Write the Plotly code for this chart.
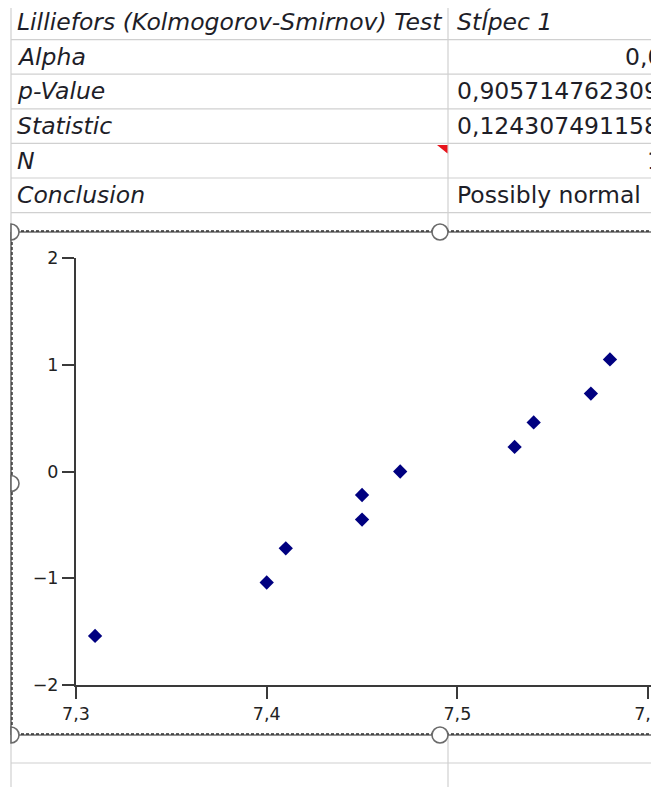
import plotly.graph_objects as go

# ---- data ----
row_labels = ["Lilliefors (Kolmogorov-Smirnov) Test", "Alpha", "p-Value", "Statistic", "N", "Conclusion"]
row_values = ["Stĺpec 1", "0,05", "0,9057147623099", "0,1243074911580", "11", "Possibly normal"]
value_align = ["left", "right", "left", "left", "right", "left"]
label_italic = [True, True, True, True, True, True]
value_italic = [True, False, False, False, False, False]

x_values = [7.31, 7.40, 7.41, 7.45, 7.45, 7.47, 7.53, 7.54, 7.57, 7.58]
y_values = [-1.54, -1.04, -0.72, -0.45, -0.22, 0.00, 0.23, 0.46, 0.73, 1.05]

x_ticks = [7.3, 7.4, 7.5, 7.6]
y_ticks = [-2, -1, 0, 1, 2]

# ---- geometry (screen pixels; page body has an 8px margin) ----
OFF = 8
W, H = 651 - OFF, 787 - OFF
FONT = "DejaVu Sans"
TXT = "#1e1e28"
GRID = "#d0d0d0"


def px(x):
    return (x - OFF) / W


def py(y):
    return 1 - (y - OFF) / H


row_top = 5.0
row_h = 34.6
n_rows = len(row_labels)
col_left = 11
col_split = 448
cell_right = 679
right_edge = 651

chart_top, chart_bottom = 232, 735
plot_left, plot_bottom, plot_top = 76, 685, 258
px_per_x = 1907.0  # pixels per 1.0 on x axis

shapes = []
annotations = []

# spreadsheet grid lines
for i in range(n_rows + 1):
    y = row_top + i * row_h
    shapes.append(dict(type="line", xref="paper", yref="paper",
                       x0=px(col_left), x1=1, y0=py(y), y1=py(y),
                       line=dict(color=GRID, width=1.2)))
for x in (col_left, col_split):
    shapes.append(dict(type="line", xref="paper", yref="paper",
                       x0=px(x), x1=px(x), y0=py(row_top), y1=py(chart_top),
                       line=dict(color=GRID, width=1.2)))
    shapes.append(dict(type="line", xref="paper", yref="paper",
                       x0=px(x), x1=px(x), y0=py(chart_bottom), y1=0,
                       line=dict(color=GRID, width=1.2)))
shapes.append(dict(type="line", xref="paper", yref="paper",
                   x0=px(col_left), x1=1, y0=py(763), y1=py(763),
                   line=dict(color=GRID, width=1.2)))

# red comment marker in N row
ty = row_top + 4 * row_h
shapes.append(dict(type="path", xref="paper", yref="paper",
                   path=f"M {px(437)} {py(ty + 1.5)} L {px(col_split - 0.5)} {py(ty + 1.5)} L {px(col_split - 0.5)} {py(ty + 10)} Z",
                   fillcolor="#e8141c", line=dict(width=0)))

# chart selection frame
frame_segments = [
    (col_left, chart_top, right_edge + 5, chart_top),
    (col_left, chart_bottom, right_edge + 5, chart_bottom),
    (col_left, chart_top, col_left, chart_bottom),
]
for (x0, y0, x1, y1) in frame_segments:
    shapes.append(dict(type="line", xref="paper", yref="paper",
                       x0=px(x0), x1=px(x1), y0=py(y0), y1=py(y1),
                       line=dict(color="#6a6a6a", width=1.6)))
    dx = 0 if x0 != x1 else 1.0
    dy = -1.0 if y0 == y1 else 0
    shapes.append(dict(type="line", xref="paper", yref="paper",
                       x0=px(x0 + dx), x1=px(x1 + dx), y0=py(y0 + dy), y1=py(y1 + dy),
                       line=dict(color="#2e2e2e", width=1.4, dash="3px,2px")))

# handles
R = 8
K = 0.5523
for (cx, cy) in [(440, chart_top), (440, chart_bottom)]:
    shapes.append(dict(type="circle", xref="paper", yref="paper",
                       x0=px(cx - R), x1=px(cx + R), y0=py(cy + R), y1=py(cy - R),
                       fillcolor="white", line=dict(color="#6a6a6a", width=1.6)))
for (cx, cy) in [(col_left, chart_top), (col_left, (chart_top + chart_bottom) / 2), (col_left, chart_bottom)]:
    path = (f"M {px(cx)} {py(cy - R)} "
            f"C {px(cx + K * R)} {py(cy - R)} {px(cx + R)} {py(cy - K * R)} {px(cx + R)} {py(cy)} "
            f"C {px(cx + R)} {py(cy + K * R)} {px(cx + K * R)} {py(cy + R)} {px(cx)} {py(cy + R)} Z")
    shapes.append(dict(type="path", xref="paper", yref="paper", path=path,
                       fillcolor="white", line=dict(color="#6a6a6a", width=1.6)))

# table text
for i, (lab, val) in enumerate(zip(row_labels, row_values)):
    yc = row_top + (i + 0.5) * row_h
    annotations.append(dict(xref="paper", yref="paper", x=px(15), y=py(yc),
                            xanchor="left", yanchor="middle", showarrow=False, text=lab,
                            font=dict(family=FONT, size=23.5, color=TXT,
                                      style="italic" if label_italic[i] else "normal")))
    if value_align[i] == "left":
        ax, anc = px(455), "left"
    else:
        ax, anc = px(cell_right), "right"
    annotations.append(dict(xref="paper", yref="paper", x=ax, y=py(yc),
                            xanchor=anc, yanchor="middle", showarrow=False, text=val,
                            font=dict(family=FONT, size=23.5, color=TXT,
                                      style="italic" if value_italic[i] else "normal")))

fig = go.Figure()
fig.add_trace(go.Scatter(
    x=x_values, y=y_values, mode="markers",
    marker=dict(symbol="diamond", size=11, color="#000080", line=dict(width=0)),
    showlegend=False, cliponaxis=False,
))

x_min = x_ticks[0]
x_max = x_min + (right_edge - plot_left) / px_per_x
axis_col = "#3a3a3a"
fig.update_layout(
    width=W, height=H,
    margin=dict(l=0, r=0, t=0, b=0, pad=0, autoexpand=False),
    paper_bgcolor="white", plot_bgcolor="white",
    separators=", ",
    shapes=shapes, annotations=annotations,
    xaxis=dict(domain=[px(plot_left), 1], range=[x_min, x_max], tickvals=x_ticks,
               tickformat=".1f", showgrid=False, zeroline=False, showline=True,
               linecolor=axis_col, linewidth=2, ticks="outside", ticklen=12,
               tickwidth=2, tickcolor=axis_col, ticklabeloverflow="allow",
               automargin=False,
               tickfont=dict(family=FONT, size=17.5, color="#222")),
    yaxis=dict(domain=[py(plot_bottom), py(plot_top)], range=[-2, 2], tickvals=y_ticks,
               showgrid=False, zeroline=False, showline=True,
               linecolor=axis_col, linewidth=2, ticks="outside", ticklen=12,
               tickwidth=2, tickcolor=axis_col, automargin=False,
               tickfont=dict(family=FONT, size=17.5, color="#222")),
)

fig.write_html("out.html", config={"displayModeBar": False})
